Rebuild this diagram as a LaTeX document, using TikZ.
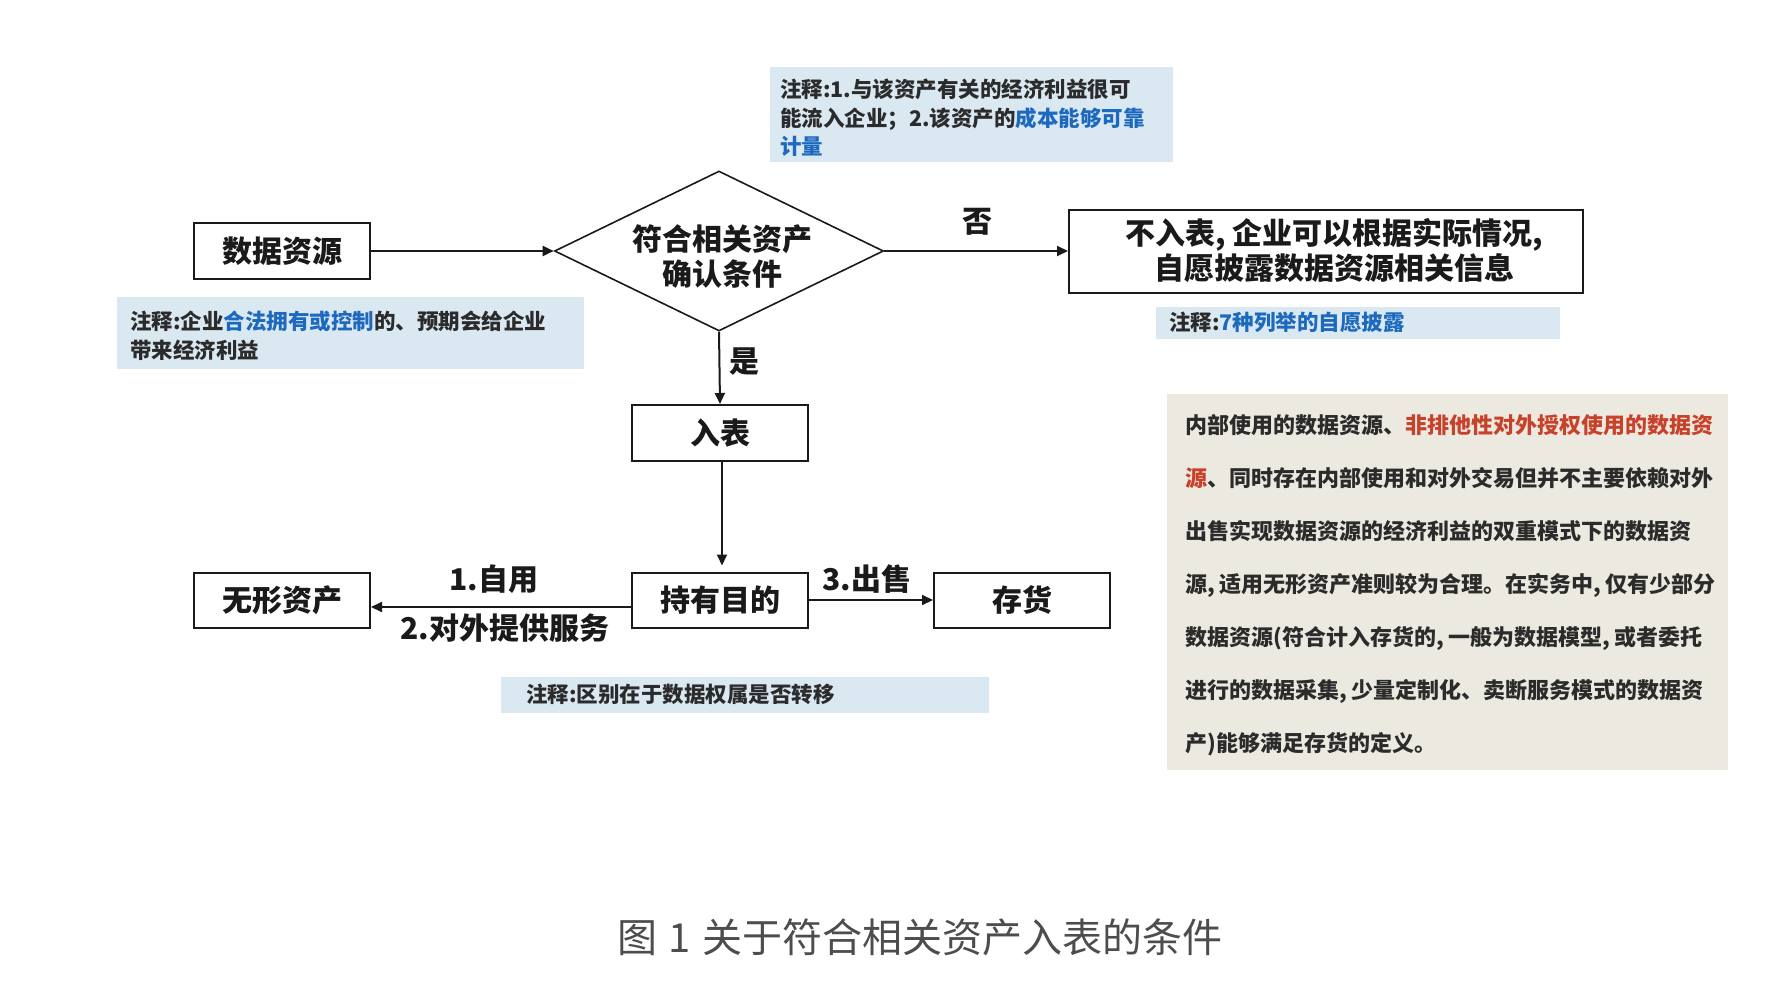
\documentclass[tikz,border=0pt]{standalone}
\usepackage{fontspec}
\setmainfont{Noto Sans CJK SC}
\usetikzlibrary{arrows.meta,shapes.geometric}
\definecolor{notebg}{HTML}{DAE8F1}
\definecolor{rbg}{HTML}{ECE9E0}
\definecolor{bluet}{HTML}{1C69BD}
\definecolor{redt}{HTML}{C8412B}
\definecolor{txt}{HTML}{1A1A1A}
\definecolor{notetxt}{HTML}{2B2B2B}
\definecolor{captxt}{HTML}{4D4D4D}
\newcommand{\cmm}{,\hspace{0.2em}}
\begin{document}
\begin{tikzpicture}[x=1pt,y=-1pt,
  box/.style={draw=txt, line width=2pt, minimum width=176pt, minimum height=56pt, inner sep=0pt, font=\fontsize{30}{36}\selectfont\bfseries, text=txt},
  arr/.style={-{Triangle[length=11pt,width=10pt]}, line width=2pt, draw=txt},
  notebox/.style={fill=notebg, draw=none, inner sep=0pt},
  notetext/.style={anchor=west, align=left, inner sep=0pt, font=\fontsize{21.5}{28.5}\selectfont\bfseries, text=notetxt},
  lbl/.style={font=\fontsize{30}{36}\selectfont\bfseries, inner sep=0pt, text=txt}]
\useasboundingbox (0,0) rectangle (1786,996);
\fill[white] (0,0) rectangle (1786,996);

% note backgrounds
\node[notebox, minimum width=403pt, minimum height=95pt] (nb1) at (971.5,114.5) {};
\node[notebox, minimum width=467pt, minimum height=72pt] (nb2) at (350.5,333) {};
\node[notebox, minimum width=404pt, minimum height=32pt] (nb3) at (1358,323) {};
\node[notebox, minimum width=488pt, minimum height=36pt] (nb4) at (745,695) {};
\node[fill=rbg, draw=none, inner sep=0pt, minimum width=561pt, minimum height=376pt] (rb) at (1447.5,582) {};

% note texts
\node[notetext] (nt1) at (780,118) {注释:1.与该资产有关的经济利益很可\\能流入企业；2.该资产的\textcolor{bluet}{成本能够可靠}\\\textcolor{bluet}{计量}};
\node[notetext, font=\fontsize{21.5}{29}\selectfont\bfseries] (nt2) at (130,336) {注释:企业\textcolor{bluet}{合法拥有或控制}的、预期会给企业\\带来经济利益};
\node[notetext] (nt3) at (1169,322) {注释:\textcolor{bluet}{7种列举的自愿披露}};
\node[notetext] (nt4) at (526,694) {注释:区别在于数据权属是否转移};

% main nodes
\node[box] (src) at (282,251) {数据资源};
\node[diamond, draw=txt, line width=1.6pt, minimum width=329pt, minimum height=160pt, inner sep=0pt] (dia) at (719,251) {};
\node[lbl, align=center, font=\fontsize{30}{35}\selectfont\bfseries] (diat) at (722,257) {符合相关资产\\确认条件};
\node[box, minimum width=514pt, minimum height=83pt, align=center, font=\fontsize{30}{35}\selectfont\bfseries] (no) at (1326,251) {\hspace*{16pt}不入表\cmm 企业可以根据实际情况\cmm\\\hspace*{16pt}自愿披露数据资源相关信息};
\node[box] (in) at (720,433) {入表};
\node[box, minimum height=55pt] (hold) at (720,600) {持有目的};
\node[box, minimum height=55pt] (intang) at (282,600) {无形资产};
\node[box, minimum height=55pt] (inv) at (1022,600) {存货};

% connectors
\draw[arr] (src.east) -- (dia.west);
\draw[arr] (dia.east) -- (no.west);
\draw[arr] (dia.south) -- (in.north);
\draw[arr] ([xshift=2pt]in.south) -- ([xshift=2pt,yshift=6pt]hold.north);
\draw[arr] ([yshift=-7pt]hold.west) -- ([yshift=-7pt]intang.east);
\draw[arr] (hold.east) -- (inv.west);

% edge labels
\node[lbl] (lno) at (977,222) {否};
\node[lbl] (lyes) at (744,362) {是};
\node[lbl] (l1) at (494,579) {1.自用};
\node[lbl] (l2) at (505,628) {2.对外提供服务};
\node[lbl] (l3) at (867,579) {3.出售};

% right text
\node[anchor=west, align=left, inner sep=0pt, font=\fontsize{22}{53}\selectfont\bfseries, text=notetxt] (rt) at (1185,585) {内部使用的数据资源、\textcolor{redt}{非排他性对外授权使用的数据资}\\
\textcolor{redt}{源}、同时存在内部使用和对外交易但并不主要依赖对外\\
出售实现数据资源的经济利益的双重模式下的数据资\\
源\cmm 适用无形资产准则较为合理。在实务中\cmm 仅有少部分\\
数据资源(符合计入存货的\cmm 一般为数据模型\cmm 或者委托\\
进行的数据采集\cmm 少量定制化、卖断服务模式的数据资\\
产)能够满足存货的定义。};

% caption
\node[inner sep=0pt, font=\fontsize{40}{46}\selectfont, text=captxt] (cap) at (920,937) {图\hspace{0.28em}1\hspace{0.28em}关于符合相关资产入表的条件};
\end{tikzpicture}
\end{document}
